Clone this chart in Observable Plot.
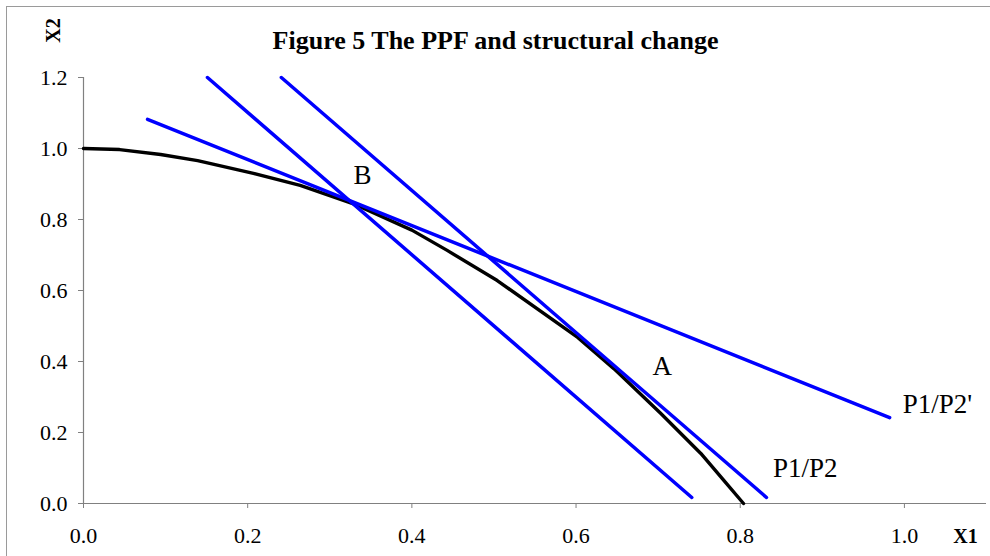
<!DOCTYPE html>
<html>
<head>
<meta charset="utf-8">
<script src="https://cdn.jsdelivr.net/npm/d3@7"></script>
<script src="https://cdn.jsdelivr.net/npm/@observablehq/plot@0.6"></script>
<style>
  html, body { margin: 0; padding: 0; background: #fff; }
  #wrap { position: relative; width: 990px; height: 556px; overflow: hidden; }
  #frame { position: absolute; left: 6px; top: 6px; width: 990px; height: 560px;
           border-left: 1.5px solid #9a9a9a; border-top: 1.5px solid #9a9a9a; pointer-events: none; }
</style>
</head>
<body>
<div id="wrap"><div id="frame"></div></div>
<script>
const titleText = "Figure 5 The PPF and structural change";
const xAxisTitle = "X1";
const yAxisTitle = "X2";

const xTicks = [0, 0.2, 0.4, 0.6, 0.8, 1.0];
const yTicks = [0, 0.2, 0.4, 0.6, 0.8, 1.0, 1.2];

// PPF curve (black)
const ppfX = [0, 0.044, 0.094, 0.139, 0.207, 0.264, 0.328, 0.40, 0.443, 0.504, 0.602, 0.646, 0.703, 0.752, 0.780, 0.804];
const ppfY = [1.0, 0.997, 0.983, 0.966, 0.930, 0.896, 0.845, 0.770, 0.713, 0.628, 0.468, 0.380, 0.254, 0.141, 0.065, 0.0];

// Price lines (blue)
const priceNames = ["P1/P2'", "P1/P2 (B)", "P1/P2 (A)"];
const priceX1 = [0.078, 0.151, 0.241];
const priceY1 = [1.082, 1.200, 1.200];
const priceX2 = [0.982, 0.741, 0.832];
const priceY2 = [0.242, 0.017, 0.017];

// Annotations
const labelText = ["B", "A", "P1/P2", "P1/P2'"];
const labelX = [0.329, 0.693, 0.840, 0.998];
const labelY = [0.899, 0.363, 0.076, 0.254];

const ppf = ppfX.map((x, i) => ({x, y: ppfY[i]}));
const priceLines = priceNames.flatMap((name, i) => [
  {name, x: priceX1[i], y: priceY1[i]},
  {name, x: priceX2[i], y: priceY2[i]}
]);
const labels = labelText.map((t, i) => ({t, x: labelX[i], y: labelY[i]}));

const font = "'Liberation Serif', 'Times New Roman', serif";

const chart = Plot.plot({
  width: 990,
  height: 556,
  marginLeft: 83,
  marginRight: 4,
  marginTop: 77,
  marginBottom: 53,
  style: {fontFamily: font, background: "transparent", color: "black", overflow: "visible"},
  x: {domain: [0, 1.1], axis: null},
  y: {domain: [0, 1.2], axis: null},
  marks: [
    Plot.axisX({ticks: xTicks, tickSize: 5, tickPadding: 19, tickFormat: d3.format(".1f"),
      stroke: "#808080", fill: "black", fontSize: 22, label: null}),
    Plot.axisY({ticks: yTicks, tickSize: 5, tickPadding: 11, tickFormat: d3.format(".1f"),
      stroke: "#808080", fill: "black", fontSize: 22, label: null}),
    Plot.ruleX([0], {y1: 0, y2: 1.2, stroke: "#808080", strokeWidth: 1.2}),
    Plot.ruleY([0], {x1: 0, x2: 1.1, stroke: "#808080", strokeWidth: 1.2}),
    Plot.line(ppf, {x: "x", y: "y", stroke: "black", strokeWidth: 3.4, strokeLinejoin: "round"}),
    Plot.line(priceLines, {x: "x", y: "y", z: "name", stroke: "#0000ff", strokeWidth: 3.5}),
    Plot.text(labels, {x: "x", y: "y", text: "t", textAnchor: "start", lineAnchor: "bottom",
      fontSize: 27, fill: "black"}),
    Plot.text([titleText], {frameAnchor: "top", dx: -39.5, dy: -29, lineAnchor: "bottom",
      fontSize: 26, fontWeight: "bold", fill: "black"}),
    Plot.text([yAxisTitle], {frameAnchor: "top-left", dx: -30, dy: -47, rotate: -90,
      textAnchor: "middle", lineAnchor: "middle", fontSize: 20, fontWeight: "bold", fill: "black"}),
    Plot.text([xAxisTitle], {frameAnchor: "bottom-right", dx: -21, dy: 39, textAnchor: "middle",
      lineAnchor: "bottom", fontSize: 20, fontWeight: "bold", fill: "black"})
  ]
});
document.getElementById("wrap").prepend(chart);
</script>
</body>
</html>
